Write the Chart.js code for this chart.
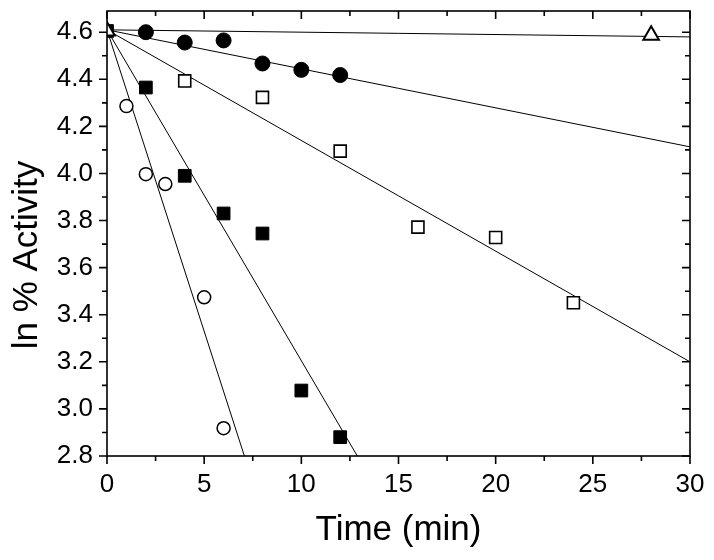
<!DOCTYPE html>
<html>
<head>
<meta charset="utf-8">
<script src="https://cdn.jsdelivr.net/npm/chart.js@4/dist/chart.umd.min.js"></script>
<style>
  body { margin: 0; background: #fff; }
  #wrap { width: 714px; height: 560px; }
</style>
</head>
<body>
<div id="wrap"><canvas id="c" width="714" height="560"></canvas></div>
<script>
// ln % activity vs time, five series + their fit lines
const openTriX = [0, 28];
const openTriY = [4.605, 4.587];
const fillCircX = [2, 4, 6, 8, 10, 12];
const fillCircY = [4.600, 4.556, 4.565, 4.467, 4.440, 4.418];
const openSqX = [4, 8, 12, 16, 20, 24];
const openSqY = [4.393, 4.323, 4.095, 3.772, 3.728, 3.451];
const fillSqX = [0, 2, 4, 6, 8, 10, 12];
const fillSqY = [4.605, 4.365, 3.990, 3.830, 3.745, 3.078, 2.880];
const openCircX = [1, 2, 3, 5, 6];
const openCircY = [4.286, 3.997, 3.955, 3.474, 2.918];

// fit lines, endpoints (tri, fill circ, open sq, fill sq, open circ)
const fitX0 = [0, 0, 0, 0, 0];
const fitY0 = [4.61, 4.61, 4.61, 4.61, 4.61];
const fitX1 = [30, 30, 30, 12.88, 7.07];
const fitY1 = [4.58, 4.113, 3.20, 2.8, 2.8];

const xMajor = [0, 5, 10, 15, 20, 25, 30];
const xMinor = [2.5, 7.5, 12.5, 17.5, 22.5, 27.5];
const yMajor = [2.8, 3.0, 3.2, 3.4, 3.6, 3.8, 4.0, 4.2, 4.4, 4.6];
const yMinor = [2.9, 3.1, 3.3, 3.5, 3.7, 3.9, 4.1, 4.3, 4.5];

const X_TITLE = "Time (min)";
const Y_TITLE = "ln % Activity";

const pts = (xs, ys) => xs.map((x, i) => ({ x: x, y: ys[i] }));
const FONT = "'Liberation Sans', Arial, sans-serif";

const fitSets = fitX0.map((x0, i) => ({
  data: [{ x: x0, y: fitY0[i] }, { x: fitX1[i], y: fitY1[i] }],
  showLine: true, borderColor: "#000", borderWidth: 1, pointRadius: 0, fill: false,
}));

// frame box + inward/outward ticks like the original plot
const frameTicks = {
  id: "frameTicks",
  afterDatasetsDraw(chart) {
    const { ctx, chartArea: a, scales } = chart;
    const sx = scales.x, sy = scales.y;
    ctx.save();
    ctx.strokeStyle = "#000";
    ctx.lineWidth = 1.6;
    ctx.strokeRect(a.left, a.top, a.right - a.left, a.bottom - a.top);
    ctx.beginPath();
    const xt = (v, len) => {
      const p = sx.getPixelForValue(v);
      ctx.moveTo(p, a.bottom); ctx.lineTo(p, a.bottom + len);
      ctx.moveTo(p, a.top); ctx.lineTo(p, a.top + len);
    };
    const yt = (v, len) => {
      const p = sy.getPixelForValue(v);
      ctx.moveTo(a.left, p); ctx.lineTo(a.left - len, p);
      ctx.moveTo(a.right, p); ctx.lineTo(a.right - len, p);
    };
    xMajor.forEach((v) => xt(v, 8));
    xMinor.forEach((v) => xt(v, 5));
    yMajor.forEach((v) => yt(v, 8));
    yMinor.forEach((v) => yt(v, 5));
    ctx.stroke();
    ctx.restore();
  },
};

// y title drawn by hand so it can sit a bit lower than the axis centre
const yTitle = {
  id: "yTitle",
  afterDraw(chart) {
    const ctx = chart.ctx;
    ctx.save();
    ctx.translate(27, 255);
    ctx.rotate(-Math.PI / 2);
    ctx.font = "35px " + FONT;
    ctx.fillStyle = "#000";
    ctx.textAlign = "center";
    ctx.textBaseline = "middle";
    ctx.fillText(Y_TITLE, 0, 0);
    ctx.restore();
  },
};

new Chart(document.getElementById("c"), {
  type: "scatter",
  data: {
    datasets: [
      { data: pts(openTriX, openTriY), pointStyle: "triangle", pointRadius: 9,
        pointBackgroundColor: "#fff", pointBorderColor: "#000", pointBorderWidth: 2 },
      { data: pts(fillSqX, fillSqY), pointStyle: "rect", pointRadius: 9,
        pointBackgroundColor: "#000", pointBorderColor: "#000", pointBorderWidth: 1 },
      { data: pts(fillCircX, fillCircY), pointStyle: "circle", pointRadius: 7.5,
        pointBackgroundColor: "#000", pointBorderColor: "#000", pointBorderWidth: 1 },
      { data: pts(openSqX, openSqY), pointStyle: "rect", pointRadius: 8.5,
        pointBackgroundColor: "#fff", pointBorderColor: "#000", pointBorderWidth: 1.6 },
      { data: pts(openCircX, openCircY), pointStyle: "circle", pointRadius: 6.5,
        pointBackgroundColor: "#fff", pointBorderColor: "#000", pointBorderWidth: 1.5 },
    ].concat(fitSets),
  },
  options: {
    responsive: false,
    animation: false,
    layout: { padding: { left: 0, top: 10, right: 24, bottom: 0 } },
    plugins: { legend: { display: false }, tooltip: { enabled: false } },
    scales: {
      x: {
        type: "linear", min: 0, max: 30,
        afterFit: (s) => { s.height = 104; s.paddingLeft = 0; s.paddingRight = 0; },
        afterBuildTicks: (s) => { s.ticks = xMajor.map((v) => ({ value: v })); },
        grid: { display: false, drawTicks: false },
        border: { display: false },
        ticks: { color: "#000", padding: 13, font: { family: FONT, size: 26 } },
        title: { display: true, text: X_TITLE, color: "#000",
          padding: { top: 0, bottom: 9 }, font: { family: FONT, size: 35 } },
      },
      y: {
        type: "linear", min: 2.8, max: 4.69,
        afterFit: (s) => { s.width = 107; s.paddingTop = 0; s.paddingBottom = 0; },
        afterBuildTicks: (s) => { s.ticks = yMajor.map((v) => ({ value: v })); },
        grid: { display: false, drawTicks: false },
        border: { display: false },
        ticks: { color: "#000", padding: 14, font: { family: FONT, size: 26 },
          callback: (v) => v.toFixed(1) },
      },
    },
  },
  plugins: [frameTicks, yTitle],
});
</script>
</body>
</html>
